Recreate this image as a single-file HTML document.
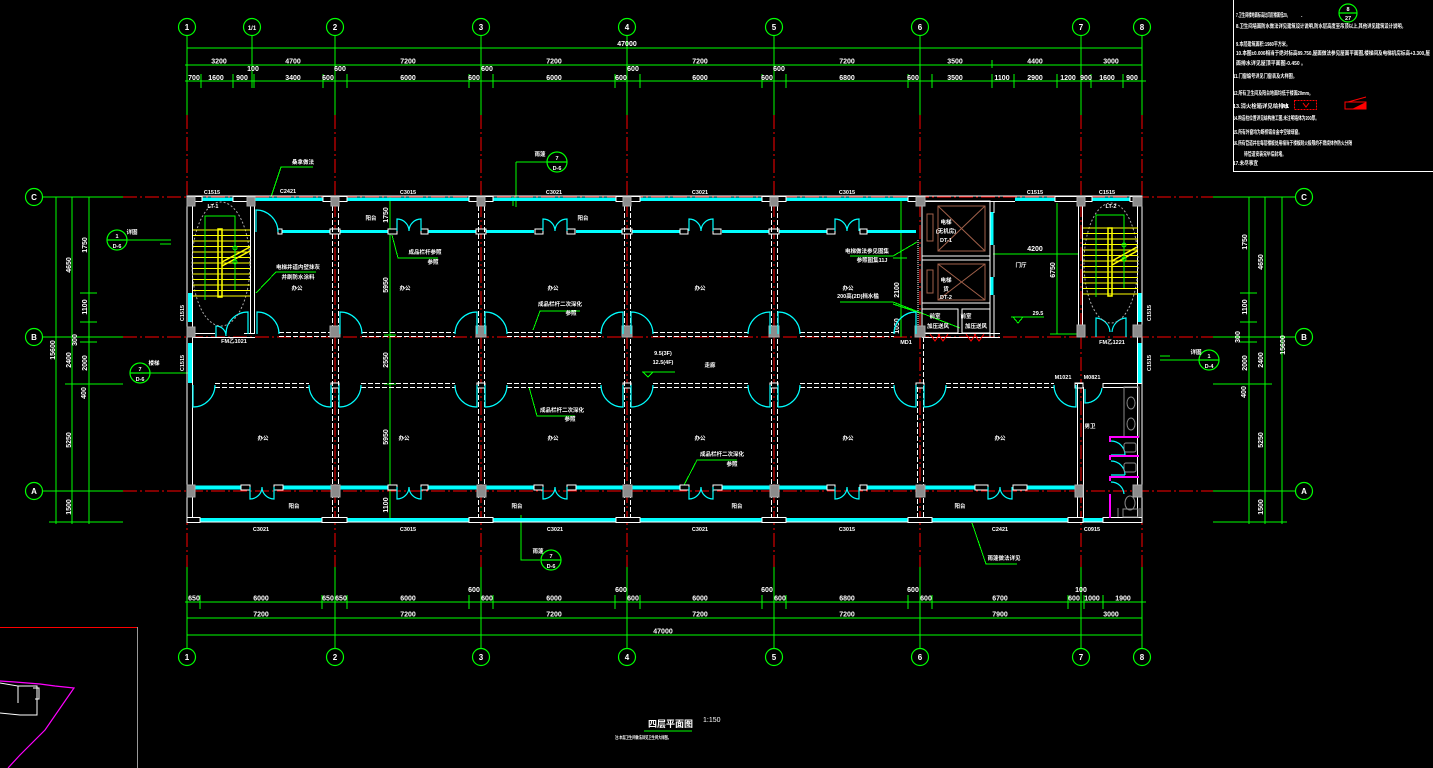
<!DOCTYPE html>
<html><head><meta charset="utf-8">
<style>
html,body{margin:0;padding:0;background:#000;}
svg{display:block}
text{font-family:"Liberation Sans","Noto Sans CJK SC",sans-serif;fill:#fff;font-weight:bold}
.d{font-size:7px;text-anchor:middle;font-weight:normal}
.s{font-size:5.5px;text-anchor:middle}
.n{font-size:5.4px}
.b{font-size:8px;text-anchor:middle;font-weight:normal}
</style></head><body>
<svg width="1433" height="768" viewBox="0 0 1433 768" xmlns="http://www.w3.org/2000/svg">
<rect width="1433" height="768" fill="#000"/>

<!-- ============ RED AXIS LINES ============ -->
<g stroke="#f00" stroke-width="1" fill="none" stroke-dasharray="14 3 2 3" shape-rendering="crispEdges">
<path d="M187,115V567M335,115V567M481,115V567M627,115V567M774,115V567M920,115V567M1081,115V567M1142,115V567"/>
<path d="M123,197H1213M123,337H1213M123,491H1213"/>
</g>

<!-- ============ GREEN DIMENSIONS / AXES ============ -->
<g stroke="#0f0" stroke-width="1" fill="none" shape-rendering="crispEdges">
<path d="M187,48H1142M185,65H1142M185,81H1146"/>
<path d="M187,36V115M335,36V115M481,36V115M627,36V115M774,36V115M920,36V115M1081,36V115M1142,36V115M252,36V84"/>
<path d="M201,74v14M233,74v14M252,74v14M254,74v14M323,74v14M347,74v14M469,74v14M493,74v14M615,74v14M640,74v14M762,74v14M786,74v14M908,74v14M932,74v14M992,74v14M1014,74v14M1057,74v14M1091,74v14M1123,74v14M992,60v8"/>
<path d="M185,602H1146M187,618H1142M187,635H1142"/>
<path d="M187,567V648M335,567V648M481,567V648M627,567V648M774,567V648M920,567V648M1081,567V648M1142,567V648"/>
<path d="M200,595v14M322,595v14M347,595v14M469,595v14M493,595v14M615,595v14M640,595v14M762,595v14M786,595v14M908,595v14M932,595v14M1068,595v14M1084,595v14M1103,595v14"/>
<path d="M43,197H123M43,337H123M43,491H123"/>
<path d="M56,197V524M72,197V524M89,197V524"/>
<path d="M80,293H97M80,322H97M80,342H97M65,384H123M49,522H123"/>
<path d="M1213,197H1295M1213,337H1295M1213,491H1295"/>
<path d="M1249,197V524M1265,197V524M1282,197V524"/>
<path d="M1240,293H1257M1240,322H1257M1240,342H1257M1213,384H1272M1213,522H1287"/>
<path d="M390,197V522M384,231H396M384,335H396M384,384H396M384,489H396M1057,203V334M1050,334H1080M993,254H1079M901,198V337M895,231H907"/>
<path d="M271,197L281,167H313"/>
<path d="M516,162H547M516,162V207M513,197V206"/>
<path d="M127,240H171M160,244H171"/>
<path d="M150,373H192M192,368V378"/>
<path d="M1160,360H1200M1160,356H1170"/>
<path d="M521,515V560H540"/>
<path d="M972,523L986,564H1017"/>
<path d="M256,293L276,272H316"/>
<path d="M392,235L398,258H438"/>
<path d="M533,330L540,311H580"/>
<path d="M529,387L537,416H575"/>
<path d="M683,487L697,460H737"/>
<path d="M850,256H893L917,242M893,258H907"/>
<path d="M840,302H893L960,328M893,304L920,313"/>
<path d="M642,372H675M643,372L648,377L653,372"/>
<path d="M1011,317H1044M1013,317L1018,323L1023,317"/>
<path d="M644,731H692"/>
</g>
<g stroke="#0f0" stroke-width="1.2" fill="none">
<circle cx="187" cy="27" r="8.5"/><circle cx="252" cy="27" r="8.5"/><circle cx="335" cy="27" r="8.5"/><circle cx="481" cy="27" r="8.5"/><circle cx="627" cy="27" r="8.5"/><circle cx="774" cy="27" r="8.5"/><circle cx="920" cy="27" r="8.5"/><circle cx="1081" cy="27" r="8.5"/><circle cx="1142" cy="27" r="8.5"/>
<circle cx="187" cy="657" r="8.5"/><circle cx="335" cy="657" r="8.5"/><circle cx="481" cy="657" r="8.5"/><circle cx="627" cy="657" r="8.5"/><circle cx="774" cy="657" r="8.5"/><circle cx="920" cy="657" r="8.5"/><circle cx="1081" cy="657" r="8.5"/><circle cx="1142" cy="657" r="8.5"/>
<circle cx="34" cy="197" r="8.5"/><circle cx="34" cy="337" r="8.5"/><circle cx="34" cy="491" r="8.5"/>
<circle cx="1304" cy="197" r="8.5"/><circle cx="1304" cy="337" r="8.5"/><circle cx="1304" cy="491" r="8.5"/>
<circle cx="557" cy="162" r="10"/><circle cx="117" cy="240" r="10"/><circle cx="140" cy="373" r="10"/><circle cx="1209" cy="360" r="10"/><circle cx="551" cy="560" r="10"/><circle cx="1348" cy="13" r="9"/>
<path d="M547,162H567M107,240H127M130,373H150M1199,360H1219M541,560H561M1339,13H1357"/>
</g>
<g class="b">
<text x="187" y="30">1</text><text x="252" y="30" style="font-size:6px">1/1</text><text x="335" y="30">2</text><text x="481" y="30">3</text><text x="627" y="30">4</text><text x="774" y="30">5</text><text x="920" y="30">6</text><text x="1081" y="30">7</text><text x="1142" y="30">8</text>
<text x="187" y="660">1</text><text x="335" y="660">2</text><text x="481" y="660">3</text><text x="627" y="660">4</text><text x="774" y="660">5</text><text x="920" y="660">6</text><text x="1081" y="660">7</text><text x="1142" y="660">8</text>
<text x="34" y="200">C</text><text x="34" y="340">B</text><text x="34" y="494">A</text>
<text x="1304" y="200">C</text><text x="1304" y="340">B</text><text x="1304" y="494">A</text>
</g>
<g class="s" style="font-weight:normal">
<text x="557" y="160">7</text><text x="557" y="170">D-6</text>
<text x="117" y="238">1</text><text x="117" y="248">D-6</text>
<text x="140" y="371">7</text><text x="140" y="381">D-6</text>
<text x="1209" y="358">1</text><text x="1209" y="368">D-4</text>
<text x="551" y="558">7</text><text x="551" y="568">D-6</text>
<text x="1348" y="11">8</text><text x="1348" y="20">27</text>
</g>

<!-- ============ DIMENSION TEXT ============ -->
<g class="d">
<text x="627" y="46">47000</text>
<text x="219" y="63.5">3200</text><text x="293" y="63.5">4700</text><text x="408" y="63.5">7200</text><text x="554" y="63.5">7200</text><text x="700" y="63.5">7200</text><text x="847" y="63.5">7200</text><text x="955" y="63.5">3500</text><text x="1035" y="63.5">4400</text><text x="1111" y="63.5">3000</text>
<text x="194" y="80">700</text><text x="216" y="80">1600</text><text x="242" y="80">900</text><text x="293" y="80">3400</text><text x="328" y="80">600</text><text x="408" y="80">6000</text><text x="474" y="80">600</text><text x="554" y="80">6000</text><text x="621" y="80">600</text><text x="700" y="80">6000</text><text x="767" y="80">600</text><text x="847" y="80">6800</text><text x="913" y="80">600</text><text x="955" y="80">3500</text><text x="1002" y="80">1100</text><text x="1035" y="80">2900</text><text x="1068" y="80">1200</text><text x="1086" y="80">900</text><text x="1107" y="80">1600</text><text x="1132" y="80">900</text>
<text x="253" y="71">100</text><text x="340" y="71">600</text><text x="487" y="71">600</text><text x="633" y="71">600</text><text x="779" y="71">600</text>
<text x="194" y="600.5">650</text><text x="261" y="600.5">6000</text><text x="328" y="600.5">650</text><text x="341" y="600.5">650</text><text x="408" y="600.5">6000</text><text x="487" y="600.5">600</text><text x="554" y="600.5">6000</text><text x="633" y="600.5">600</text><text x="700" y="600.5">6000</text><text x="780" y="600.5">600</text><text x="847" y="600.5">6800</text><text x="926" y="600.5">600</text><text x="1000" y="600.5">6700</text><text x="1074" y="600.5">600</text><text x="1092" y="600.5">1000</text><text x="1123" y="600.5">1900</text>
<text x="474" y="592">600</text><text x="621" y="592">600</text><text x="767" y="592">600</text><text x="913" y="592">600</text><text x="1081" y="592">100</text>
<text x="261" y="616.5">7200</text><text x="408" y="616.5">7200</text><text x="554" y="616.5">7200</text><text x="700" y="616.5">7200</text><text x="847" y="616.5">7200</text><text x="1000" y="616.5">7900</text><text x="1111" y="616.5">3000</text>
<text x="663" y="633.5">47000</text>
<text x="1035" y="251">4200</text>
<text transform="translate(55,350) rotate(-90)">15600</text>
<text transform="translate(71,265) rotate(-90)">4650</text>
<text transform="translate(71,360) rotate(-90)">2400</text>
<text transform="translate(71,440) rotate(-90)">5250</text>
<text transform="translate(71,507) rotate(-90)">1500</text>
<text transform="translate(87,245) rotate(-90)">1750</text>
<text transform="translate(87,307) rotate(-90)">1100</text>
<text transform="translate(87,363) rotate(-90)">2000</text>
<text transform="translate(86,393) rotate(-90)">400</text>
<text transform="translate(77,340) rotate(-90)">300</text>
<text transform="translate(1285,345) rotate(-90)">15600</text>
<text transform="translate(1263,262) rotate(-90)">4650</text>
<text transform="translate(1263,360) rotate(-90)">2400</text>
<text transform="translate(1263,440) rotate(-90)">5250</text>
<text transform="translate(1263,507) rotate(-90)">1500</text>
<text transform="translate(1247,242) rotate(-90)">1750</text>
<text transform="translate(1247,307) rotate(-90)">1100</text>
<text transform="translate(1247,363) rotate(-90)">2000</text>
<text transform="translate(1246,392) rotate(-90)">400</text>
<text transform="translate(1240,337) rotate(-90)">300</text>
<text transform="translate(388,215) rotate(-90)">1750</text>
<text transform="translate(388,285) rotate(-90)">5950</text>
<text transform="translate(388,360) rotate(-90)">2550</text>
<text transform="translate(388,437) rotate(-90)">5950</text>
<text transform="translate(388,505) rotate(-90)">1100</text>
<text transform="translate(899,290) rotate(-90)">2100</text>
<text transform="translate(899,326) rotate(-90)">1050</text>
<text transform="translate(1055,270) rotate(-90)">6750</text>
</g>

<!-- ============ BUILDING ============ -->
<g fill="#0ff" shape-rendering="crispEdges">
<rect x="195" y="197.5" width="722" height="3.5"/>
<rect x="1015" y="197.5" width="40" height="3.5"/>
<rect x="1092" y="197.5" width="38" height="3.5"/>
<rect x="200" y="518" width="876" height="3.5"/>
<rect x="1083" y="518" width="20" height="3.5"/>
<rect x="188" y="293" width="4" height="29"/><rect x="188" y="343" width="4" height="40"/>
<rect x="1138" y="293" width="4" height="29"/><rect x="1138" y="343" width="4" height="40"/>
<rect x="990.5" y="212" width="3" height="33"/><rect x="990.5" y="277" width="3" height="18"/>
<rect x="282" y="230" width="49" height="3"/><rect x="339" y="230" width="49" height="3"/><rect x="428" y="230" width="49" height="3"/><rect x="485" y="230" width="49" height="3"/><rect x="576" y="230" width="47" height="3"/><rect x="631" y="230" width="49" height="3"/><rect x="722" y="230" width="48" height="3"/><rect x="778" y="230" width="49" height="3"/><rect x="867" y="230" width="49" height="3"/>
<rect x="193" y="485.5" width="48" height="4"/><rect x="283" y="485.5" width="48" height="4"/><rect x="339" y="485.5" width="49" height="4"/><rect x="428" y="485.5" width="49" height="4"/><rect x="485" y="485.5" width="49" height="4"/><rect x="576" y="485.5" width="47" height="4"/><rect x="631" y="485.5" width="49" height="4"/><rect x="722" y="485.5" width="48" height="4"/><rect x="778" y="485.5" width="49" height="4"/><rect x="867" y="485.5" width="49" height="4"/><rect x="924" y="485.5" width="51" height="4"/><rect x="1027" y="485.5" width="49" height="4"/>
</g>

<g stroke="#fff" stroke-width="1" fill="none" shape-rendering="crispEdges">
<rect x="187" y="196" width="955" height="326"/>
<path d="M192.5,206V518M1137.5,206V518"/>
<path d="M920,201.5H1015M1055,201.5H1078"/>
<path d="M250.5,206V333M254.5,206V333M193,333.5H215M244,333.5H255M193,337.5H255"/>
<g fill="#000">
<rect x="195" y="196.5" width="7" height="5"/><rect x="233" y="196.5" width="14" height="5"/><rect x="323" y="196.5" width="24" height="5"/><rect x="469" y="196.5" width="24" height="5"/><rect x="616" y="196.5" width="24" height="5"/><rect x="762" y="196.5" width="24" height="5"/><rect x="908" y="196.5" width="12" height="5"/><rect x="1055" y="196.5" width="37" height="5"/><rect x="1130" y="196.5" width="12" height="5"/>
<rect x="187" y="517.5" width="13" height="5"/><rect x="322" y="517.5" width="25" height="5"/><rect x="469" y="517.5" width="24" height="5"/><rect x="616" y="517.5" width="24" height="5"/><rect x="762" y="517.5" width="24" height="5"/><rect x="908" y="517.5" width="24" height="5"/><rect x="1068" y="517.5" width="15" height="5"/><rect x="1103" y="517.5" width="39" height="5"/>
<rect x="278" y="229" width="4" height="5"/>
<rect x="388" y="229" width="9" height="5"/><rect x="421" y="229" width="7" height="5"/>
<rect x="535" y="229" width="8" height="5"/><rect x="567" y="229" width="8" height="5"/>
<rect x="680" y="229" width="8" height="5"/><rect x="713" y="229" width="8" height="5"/>
<rect x="827" y="229" width="8" height="5"/><rect x="860" y="229" width="7" height="5"/>
<rect x="330" y="229" width="10" height="5"/><rect x="476" y="229" width="10" height="5"/><rect x="622" y="229" width="10" height="5"/><rect x="769" y="229" width="10" height="5"/>
<rect x="241" y="485" width="9" height="5"/><rect x="274" y="485" width="9" height="5"/>
<rect x="388" y="485" width="9" height="5"/><rect x="421" y="485" width="7" height="5"/>
<rect x="534" y="485" width="9" height="5"/><rect x="567" y="485" width="9" height="5"/>
<rect x="680" y="485" width="9" height="5"/><rect x="713" y="485" width="9" height="5"/>
<rect x="827" y="485" width="8" height="5"/><rect x="860" y="485" width="7" height="5"/>
<rect x="975" y="485" width="13" height="5"/><rect x="1013" y="485" width="14" height="5"/>
<rect x="331" y="383" width="8" height="5"/><rect x="477" y="383" width="8" height="5"/><rect x="623" y="383" width="8" height="5"/><rect x="770" y="383" width="8" height="5"/><rect x="916" y="383" width="8" height="5"/><rect x="1075" y="383" width="8" height="5"/>
</g>
<rect x="922" y="201" width="68" height="55"/>
<rect x="922" y="260" width="68" height="43"/>
<rect x="922" y="309" width="36" height="24"/>
<rect x="962" y="309" width="28" height="24"/>
<path d="M922,201V337M990,201V337M994,201V213M994,245V277M994,295V337M922,333.5H1000M922,337.5H1000"/>
<path d="M1078.5,201V337M1082.5,201V337"/>
<path d="M1077.5,383V518M1083.5,387V518M1075,383.5H1083M1103,383.5H1142M1103,387.5H1138M1103,383V388"/>
</g>
<path d="M918,240V332" stroke="#fff" stroke-dasharray="1 1"/>

<g stroke="#fff" stroke-width="1" fill="none" stroke-dasharray="5 2" shape-rendering="crispEdges">
<path d="M332.5,206V518M338.5,206V518M478.5,206V518M484.5,206V518M624.5,206V518M630.5,206V518M771.5,206V518M777.5,206V518M917.5,387V518M923.5,337V518"/>
<path d="M279,332.5H331M362,332.5H455M507,332.5H601M653,332.5H748M800,332.5H894M279,336.5H331M362,336.5H455M507,336.5H601M653,336.5H748M800,336.5H894"/>
<path d="M215,383.5H309M361,383.5H455M507,383.5H601M653,383.5H748M800,383.5H894M946,383.5H1054M215,387.5H309M361,387.5H455M507,387.5H601M653,387.5H748M800,387.5H894M946,387.5H1054"/>
</g>

<g fill="#8c8c8c" stroke="#aaa" stroke-width="0.6" shape-rendering="crispEdges">
<rect x="187" y="197" width="8" height="9"/><rect x="247" y="197" width="8" height="9"/><rect x="331" y="197" width="8" height="9"/><rect x="477" y="197" width="8" height="9"/><rect x="623" y="197" width="8" height="9"/><rect x="770" y="197" width="8" height="9"/><rect x="916" y="197" width="9" height="9"/><rect x="1077" y="197" width="8" height="9"/><rect x="1133" y="197" width="9" height="9"/>
<rect x="187" y="327" width="8" height="10"/><rect x="330" y="326" width="10" height="11"/><rect x="476" y="326" width="10" height="11"/><rect x="622" y="326" width="10" height="11"/><rect x="769" y="326" width="10" height="11"/><rect x="915" y="326" width="10" height="11"/><rect x="1077" y="325" width="8" height="12"/><rect x="1133" y="325" width="9" height="12"/>
<rect x="187" y="485" width="8" height="12"/><rect x="331" y="485" width="9" height="12"/><rect x="477" y="485" width="9" height="12"/><rect x="623" y="485" width="9" height="12"/><rect x="770" y="485" width="9" height="12"/><rect x="916" y="485" width="9" height="12"/><rect x="1075" y="485" width="8" height="12"/><rect x="1133" y="485" width="9" height="12"/>
</g>

<g stroke="#0ff" stroke-width="1.2" fill="none">
<path d="M397,231V219A12,12 0 0,1 409,231M421,231V219A12,12 0 0,0 409,231"/>
<path d="M543,231V219A12,12 0 0,1 555,231M567,231V219A12,12 0 0,0 555,231"/>
<path d="M689,231V219A12,12 0 0,1 701,231M713,231V219A12,12 0 0,0 701,231"/>
<path d="M835,231V219A12,12 0 0,1 847,231M859,231V219A12,12 0 0,0 847,231"/>
<path d="M256,232V210A22,22 0 0,1 278,232"/>
<path d="M257,334V312A22,22 0 0,1 279,334"/>
<path d="M340,334V312A22,22 0 0,1 362,334"/>
<path d="M477,334V312A22,22 0 0,0 455,334M485,334V312A22,22 0 0,1 507,334"/>
<path d="M623,334V312A22,22 0 0,0 601,334M631,334V312A22,22 0 0,1 653,334"/>
<path d="M770,334V312A22,22 0 0,0 748,334M778,334V312A22,22 0 0,1 800,334"/>
<path d="M916,334V312A22,22 0 0,0 894,334"/>
<path d="M193,385V407A22,22 0 0,0 215,385"/>
<path d="M331,385V407A22,22 0 0,1 309,385M339,385V407A22,22 0 0,0 361,385"/>
<path d="M477,385V407A22,22 0 0,1 455,385M485,385V407A22,22 0 0,0 507,385"/>
<path d="M623,385V407A22,22 0 0,1 601,385M631,385V407A22,22 0 0,0 653,385"/>
<path d="M770,385V407A22,22 0 0,1 748,385M778,385V407A22,22 0 0,0 800,385"/>
<path d="M916,385V407A22,22 0 0,1 894,385M924,385V407A22,22 0 0,0 946,385"/>
<path d="M1076,385V407A22,22 0 0,1 1054,385"/>
<path d="M1085,389V403A17,17 0 0,0 1102,388"/>
<path d="M250,487V499A12,12 0 0,0 262,487M274,487V499A12,12 0 0,1 262,487"/>
<path d="M397,487V499A12,12 0 0,0 409,487M421,487V499A12,12 0 0,1 409,487"/>
<path d="M543,487V499A12,12 0 0,0 555,487M567,487V499A12,12 0 0,1 555,487"/>
<path d="M689,487V499A12,12 0 0,0 701,487M713,487V499A12,12 0 0,1 701,487"/>
<path d="M835,487V499A12,12 0 0,0 847,487M859,487V499A12,12 0 0,1 847,487"/>
<path d="M988,487V499A12,12 0 0,0 1000,487M1012,487V499A12,12 0 0,1 1000,487"/>
<path d="M248,334V312A22,22 0 0,0 226,334M216,337V326A10,10 0 0,1 226,336"/>
<path d="M1096,337V318A15,15 0 0,1 1110,332M1126,337V318A15,15 0 0,0 1112,332"/>
<path d="M1111,441A14,14 0 0,1 1125,455M1111,455H1125M1111,461A14,14 0 0,1 1125,475M1111,475H1125M1111,482A13,13 0 0,1 1124,494"/>
</g>

<g fill="none">
<ellipse cx="221" cy="264" rx="29" ry="62" stroke="#aaa" stroke-dasharray="2 2"/>
<ellipse cx="1111" cy="263" rx="27" ry="60" stroke="#aaa" stroke-dasharray="2 2"/>
<g stroke="#ff0" stroke-width="1" shape-rendering="crispEdges">
<path d="M193,230H250M193,235.5H250M193,241H250M193,246.5H250M193,252H250M193,257.5H250M193,263H250M193,268.5H250M193,274H250M193,279.5H250M193,285H250M193,290.5H250M193,296H250"/>
<path d="M1083,228H1138M1083,233.5H1138M1083,239H1138M1083,244.5H1138M1083,250H1138M1083,255.5H1138M1083,261H1138M1083,266.5H1138M1083,272H1138M1083,277.5H1138M1083,283H1138M1083,288.5H1138M1083,294H1138"/>
</g>
<g stroke="#ff0" stroke-width="1.5">
<rect x="218" y="229" width="4" height="68"/>
<rect x="1108" y="228" width="4" height="68"/>
<path d="M222,262L250,247M222,266L250,251M1112,261L1137,247M1112,265L1137,251"/>
</g>
<g stroke="#0f0" stroke-width="1" shape-rendering="crispEdges">
<path d="M205,300V216H235V290M1096,297V215H1124V288"/>
</g>
<circle cx="235" cy="248" r="2" stroke="#0f0"/><circle cx="235" cy="262" r="2" stroke="#0f0"/>
<circle cx="1124" cy="245" r="2" stroke="#0f0"/><circle cx="1124" cy="259" r="2" stroke="#0f0"/>
</g>

<g stroke="#a0604a" stroke-width="1" fill="none">
<rect x="938" y="206" width="47" height="45"/><path d="M938,206L985,251M985,206L938,251"/>
<rect x="938" y="264" width="47" height="36"/><path d="M938,264L985,300M985,264L938,300"/>
<rect x="927" y="214" width="6" height="27"/><rect x="927" y="270" width="6" height="23"/>
</g>
<g stroke="#f00" stroke-width="1" fill="none">
<path d="M930,334L935,341L940,334M938,334L943,341L948,334M966,334L971,341L976,334M974,334L979,341L984,334"/>
</g>

<g stroke="#888" stroke-width="1" fill="none">
<rect x="1124" y="387" width="15" height="50"/>
<ellipse cx="1131" cy="403" rx="4" ry="6"/><ellipse cx="1131" cy="424" rx="4" ry="6"/>
<rect x="1124" y="443" width="12" height="9" rx="2"/><rect x="1124" y="463" width="12" height="9" rx="2"/>
<rect x="1123" y="509" width="15" height="8"/><ellipse cx="1130" cy="503" rx="5" ry="7"/>
<path d="M1118,508V517M1140,508V517"/>
</g>
<g stroke="#f0f" stroke-width="2" fill="none">
<path d="M1109,437H1139M1110,437V442M1109,456H1139M1110,455V460M1109,477H1139M1110,476V481M1110,494V518"/>
</g>

<g class="s">
<text x="212" y="194">C1515</text><text x="288" y="193">C2421</text><text x="408" y="194">C3015</text><text x="554" y="194">C3021</text><text x="700" y="194">C3021</text><text x="847" y="194">C3015</text><text x="1035" y="194">C1515</text><text x="1107" y="194">C1515</text>
<text x="261" y="531">C3021</text><text x="408" y="531">C3015</text><text x="555" y="531">C3021</text><text x="700" y="531">C3021</text><text x="847" y="531">C3015</text><text x="1000" y="531">C2421</text><text x="1092" y="531">C0915</text>
<text x="234" y="343">FM乙1021</text><text x="906" y="344">MD1</text><text x="1112" y="344">FM乙1221</text>
<text x="1063" y="379">M1021</text><text x="1092" y="379">M0821</text>
<text x="213" y="208">LT-1</text><text x="1111" y="208">LT-2</text>
<text x="371" y="220">阳台</text><text x="583" y="220">阳台</text>
<text x="297" y="290">办公</text><text x="405" y="290">办公</text><text x="553" y="290">办公</text><text x="700" y="290">办公</text><text x="848" y="290">办公</text>
<text x="710" y="367">走廊</text>
<text x="263" y="440">办公</text><text x="404" y="440">办公</text><text x="553" y="440">办公</text><text x="700" y="440">办公</text><text x="848" y="440">办公</text><text x="1000" y="440">办公</text>
<text x="294" y="508">阳台</text><text x="517" y="508">阳台</text><text x="737" y="508">阳台</text><text x="960" y="508">阳台</text>
<text x="1090" y="428">男卫</text><text x="1021" y="267">门厅</text>
<text x="946" y="224">电梯</text><text x="946" y="233">(无机房)</text><text x="946" y="242">DT-1</text>
<text x="946" y="282">电梯</text><text x="946" y="291">货</text><text x="946" y="299">DT-2</text>
<text x="935" y="318">前室</text><text x="966" y="318">前室</text>
<text x="938" y="328">加压送风</text><text x="976" y="328">加压送风</text>
<text x="1038" y="315">29.5</text>
<text x="663" y="355">9.5(3F)</text><text x="663" y="364">12.5(4F)</text>
<text x="303" y="164">桑拿做法</text>
<text x="540" y="156">雨篷</text><text x="132" y="234">详图</text><text x="154" y="365">楼梯</text><text x="1196" y="354">详图</text><text x="538" y="553">雨篷</text>
<text x="1004" y="560">雨篷做法详见</text>
<text x="298" y="269">电梯井道内壁抹灰</text><text x="298" y="279">并刷防水涂料</text>
<text x="425" y="254">成品栏杆参照</text><text x="433" y="264">参照</text>
<text x="560" y="306">成品栏杆二次深化</text><text x="571" y="315">参照</text>
<text x="562" y="412">成品栏杆二次深化</text><text x="570" y="421">参照</text>
<text x="722" y="456">成品栏杆二次深化</text><text x="732" y="466">参照</text>
<text x="867" y="253">电梯做法参见图集</text><text x="872" y="262">参照图集11J</text>
<text x="858" y="298">200高(2D)挡水槛</text>
<text transform="translate(184,313) rotate(-90)">C1515</text><text transform="translate(184,363) rotate(-90)">C1515</text>
<text transform="translate(1151,313) rotate(-90)">C1515</text><text transform="translate(1151,363) rotate(-90)">C1515</text>
</g>

<path d="M1233.5,0V171.5H1433" stroke="#fff" stroke-width="1.2" fill="none" shape-rendering="crispEdges"/>
<g class="n">
<text x="1236" y="17" textLength="54" lengthAdjust="spacingAndGlyphs">7.卫生间楼地面标高比同层楼面低20。</text>
<text x="1301" y="17">.</text>
<text x="1236" y="28" textLength="170" lengthAdjust="spacingAndGlyphs">8.卫生间墙面防水做法详见建筑设计说明,防水层高度至吊顶以上,其他详见建筑设计说明。</text>
<text x="1236" y="46" textLength="54" lengthAdjust="spacingAndGlyphs">9.本层建筑面积:1980平方米。</text>
<text x="1236" y="55" textLength="194" lengthAdjust="spacingAndGlyphs">10.本图±0.000相当于绝对标高89.750,屋面做法参见屋面平面图,楼梯间及电梯机房标高+3.300,屋</text>
<text x="1236" y="65" textLength="70" lengthAdjust="spacingAndGlyphs">面排水详见屋顶平面图-0.450 。</text>
<text x="1233" y="78" textLength="64" lengthAdjust="spacingAndGlyphs">11.门窗编号详见门窗表及大样图。</text>
<text x="1233" y="95" textLength="80" lengthAdjust="spacingAndGlyphs">12.所有卫生间及阳台地面均低于楼面20mm。</text>
<text x="1233" y="108" textLength="56" lengthAdjust="spacingAndGlyphs">13.消火栓箱详见给排水</text>
<text x="1282" y="108">A1</text>
<text x="1233" y="120" textLength="86" lengthAdjust="spacingAndGlyphs">14.构造柱位置详见结构施工图,未注明墙体为200厚。</text>
<text x="1233" y="134" textLength="69" lengthAdjust="spacingAndGlyphs">15.所有外窗均为断桥铝合金中空玻璃窗。</text>
<text x="1233" y="145" textLength="119" lengthAdjust="spacingAndGlyphs">16.所有管道井在每层楼板处用相当于楼板耐火极限的不燃烧体作防火分隔</text>
<text x="1244" y="156" textLength="42" lengthAdjust="spacingAndGlyphs">待管道安装完毕后封堵。</text>
<text x="1233" y="165" textLength="25" lengthAdjust="spacingAndGlyphs">17.未尽事宜</text>
</g>
<rect x="1294.5" y="100.5" width="22" height="9" stroke="#f00" stroke-dasharray="2 1" fill="none"/>
<path d="M1303,103L1306,107L1309,103" stroke="#f00" fill="none"/>
<path d="M1345,102H1366V109H1345ZM1348,102L1366,97" stroke="#f00" fill="none"/>
<path d="M1352,109L1366,102V109Z" fill="#f00"/>

<text x="648" y="727" style="font-size:9px">四层平面图</text>
<text x="703" y="722" style="font-size:7px;font-weight:normal">1:150</text>
<text x="615" y="739" style="font-size:4.5px" textLength="56" lengthAdjust="spacingAndGlyphs">注:本层卫生间做法详见卫生间大样图。</text>

<path d="M0,627.5H137" stroke="#f00" stroke-width="1" shape-rendering="crispEdges"/>
<path d="M137.5,627V768" stroke="#999" stroke-width="1" shape-rendering="crispEdges"/>
<path d="M0,681L15,682L40,684L55,686L74,688L45,730L20,755L8,768" stroke="#f0f" stroke-width="1.2" fill="none"/>
<path d="M0,683L18,686V703M18,686H37V715H20L0,713M33,688H39V699H35" stroke="#fff" stroke-width="1" fill="none"/>
</svg>
</body></html>
